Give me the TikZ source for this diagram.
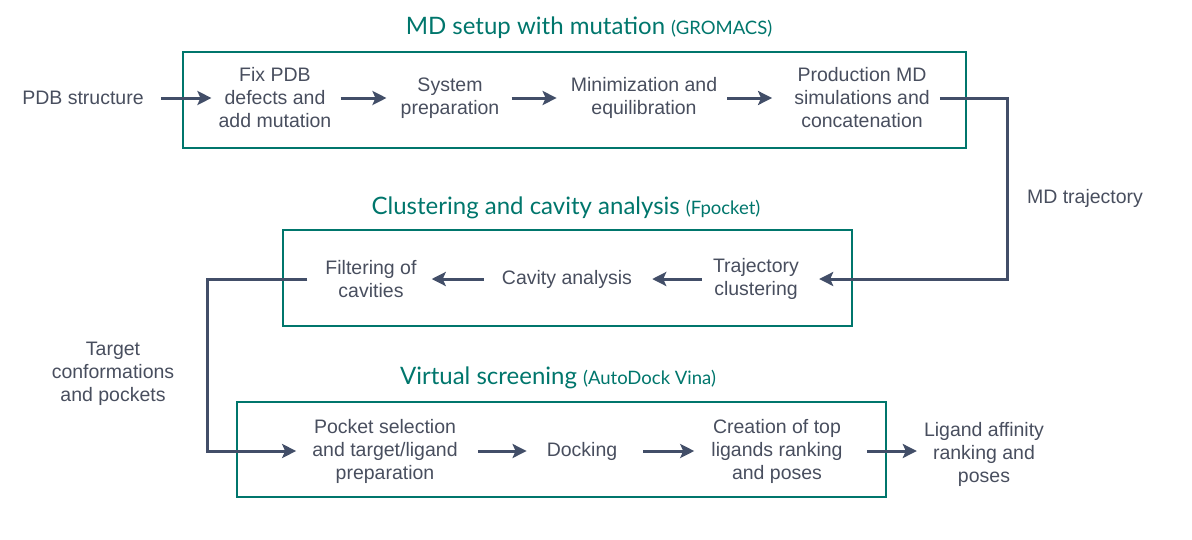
\documentclass[tikz,border=0pt]{standalone}
\usepackage{fontspec}
\setmainfont{Liberation Sans}
\newfontfamily\titlefont{Lato}
\usetikzlibrary{arrows.meta}
\definecolor{inkgray}{RGB}{72,78,94}
\definecolor{flowblue}{RGB}{66,78,104}
\definecolor{stageteal}{RGB}{0,118,108}
\tikzset{
  step text/.style = {align = center, inner sep = 0pt, text = inkgray, font = \fontsize{19.5}{23}\selectfont},
  stage title/.style = {inner sep = 0pt, text = stageteal, font = \titlefont\fontsize{24}{28}\selectfont},
  flow/.style = {draw = flowblue, line width = 3pt, -{Stealth[length = 14pt, width = 14pt, inset = 3pt]}, shorten <= 12pt, shorten >= 14pt},
  stage box/.style = {draw = stageteal, line width = 2pt}
}
\newcommand{\toolname}[1]{{\fontsize{18.5}{22}\selectfont(#1)}}
\begin{document}
\begin{tikzpicture}[x=1pt,y=-1pt]
  \useasboundingbox (0,0) rectangle (1192,539);

  \node [stage title] (title1) at (589,28) {MD setup with mutation \toolname{GROMACS}};
  \node [stage title] (title2) at (566,208) {Clustering and cavity analysis \toolname{Fpocket}};
  \node [stage title] (title3) at (558,378) {Virtual screening \toolname{AutoDock Vina}};

  \draw [stage box] (183,52) rectangle (966,148);
  \draw [stage box] (283,230) rectangle (852,326);
  \draw [stage box] (237,402) rectangle (886,497);

  \node [step text] (pdb) at (83,98) {PDB structure};
  \node [step text] (fix) at (275,98) {Fix PDB\\defects and\\add mutation};
  \node [step text] (sysprep) at (450,98) {System\\preparation};
  \node [step text] (mini) at (644,98) {Minimization and\\equilibration};
  \node [step text] (prod) at (862,98) {Production MD\\simulations and\\concatenation};

  \node [step text] (traj) at (756,279) {Trajectory\\clustering};
  \node [step text] (cavity) at (567,279) {Cavity analysis};
  \node [step text] (filter) at (371,279) {Filtering of\\cavities};

  \node [step text] (pocket) at (385,451) {Pocket selection\\and target/ligand\\preparation};
  \node [step text] (docking) at (582,451) {Docking};
  \node [step text] (ranking) at (777,451) {Creation of top\\ligands ranking\\and poses};
  \node [step text] (affinity) at (984,454) {Ligand affinity\\ranking and\\poses};

  \node [step text] (mdtraj) at (1085,198) {MD trajectory};
  \node [step text] (target) at (113,374) {Target\\conformations\\and pockets};

  \coordinate (bend1) at (1007,98);
  \coordinate (bend2) at (207,279);

  \draw [flow, shorten <= 17pt, shorten >= 7pt] (pdb) -- (fix);
  \draw [flow, shorten <= 9pt] (fix) -- (sysprep);
  \draw [flow] (sysprep) -- (mini);
  \draw [flow, shorten <= 10pt, shorten >= 22pt] (mini) -- (prod);
  \draw [flow, shorten <= 10pt, shorten >= 20pt] (prod) -| (bend1) |- (traj);
  \draw [flow, shorten <= 11pt, shorten >= 20pt] (traj) -- (cavity);
  \draw [flow, shorten <= 18pt, shorten >= 15pt] (cavity) -- (filter);
  \draw [flow, shorten <= 18pt, shorten >= 16pt] (filter) -| (bend2) |- (pocket);
  \draw [flow, shorten <= 20pt, shorten >= 20pt] (pocket) -- (docking);
  \draw [flow, shorten <= 26pt, shorten >= 17pt] (docking) -- (ranking);
  \draw [flow, shorten <= 24pt, shorten >= 7pt] (ranking) -- (affinity.west |- ranking);
\end{tikzpicture}
\end{document}
